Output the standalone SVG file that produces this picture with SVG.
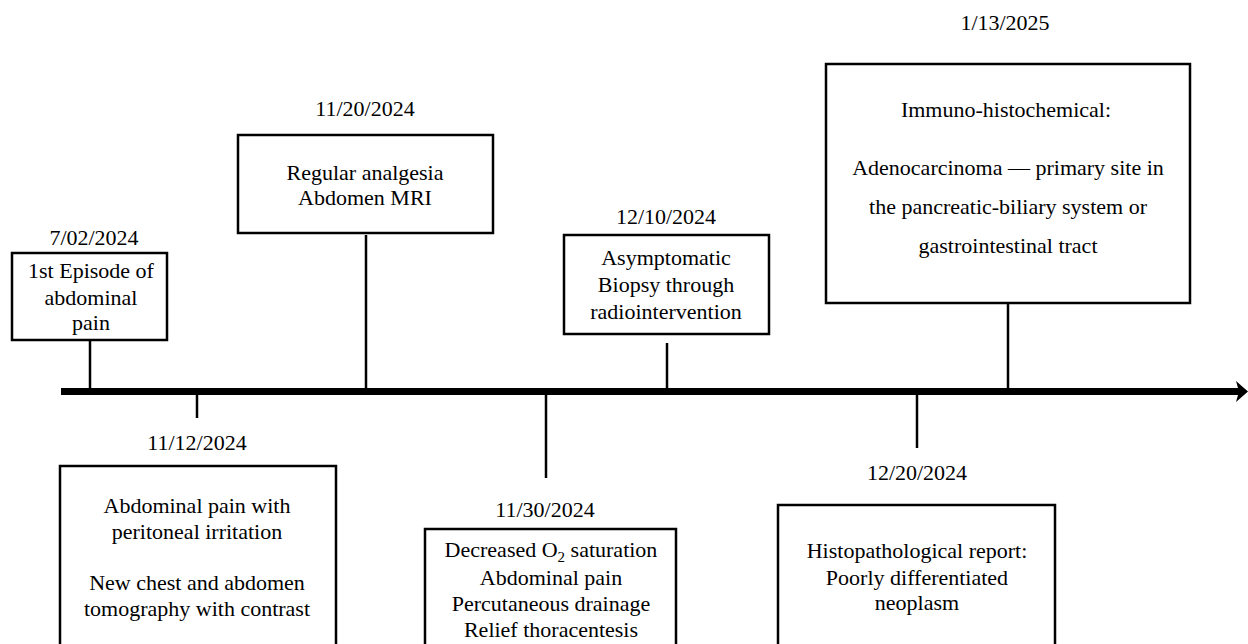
<svg xmlns="http://www.w3.org/2000/svg" width="1248" height="644" viewBox="0 0 1248 644">
<style>
.box{fill:#fff;stroke:#000;stroke-width:2.5}
.ln{stroke:#000;stroke-width:2.5;fill:none}
text{font-family:'Liberation Serif','DejaVu Serif',serif;font-size:22px;fill:#000;text-anchor:middle}
</style>
<rect width="1248" height="644" fill="#fff"/>
<g id="connectors">
<line x1="61" y1="391.5" x2="1241" y2="391.5" stroke="#000" stroke-width="7"/>
<path d="M1236,381 L1248,391.5 L1236,402 L1239,391.5 Z" fill="#000"/>
<line class="ln" x1="90" y1="340" x2="90" y2="389"/>
<line class="ln" x1="366" y1="235" x2="366" y2="389"/>
<line class="ln" x1="667" y1="343" x2="667" y2="389"/>
<line class="ln" x1="1008" y1="302" x2="1008" y2="389"/>
<line class="ln" x1="197" y1="394" x2="197" y2="418"/>
<line class="ln" x1="546" y1="394" x2="546" y2="478"/>
<line class="ln" x1="917" y1="394" x2="917" y2="448"/>
</g>
<g id="n1">
<text x="94" y="245">7/02/2024</text>
<rect class="box" x="12" y="253" width="155" height="87"/>
<text x="91" y="278">1st Episode of</text>
<text x="91" y="305">abdominal</text>
<text x="91" y="330">pain</text>
</g>
<g id="n2">
<text x="365" y="116">11/20/2024</text>
<rect class="box" x="238" y="135" width="255" height="98"/>
<text x="365" y="180">Regular analgesia</text>
<text x="365" y="205">Abdomen MRI</text>
</g>
<g id="n3">
<text x="666" y="224">12/10/2024</text>
<rect class="box" x="564" y="235" width="205" height="99"/>
<text x="666" y="265">Asymptomatic</text>
<text x="666" y="292">Biopsy through</text>
<text x="666" y="319">radiointervention</text>
</g>
<g id="n4">
<text x="1005" y="30">1/13/2025</text>
<rect class="box" x="826" y="64" width="364" height="239"/>
<text x="1006" y="117">Immuno-histochemical:</text>
<text x="1008" y="175">Adenocarcinoma — primary site in</text>
<text x="1008" y="214">the pancreatic-biliary system or</text>
<text x="1008" y="253">gastrointestinal tract</text>
</g>
<g id="n5">
<text x="197" y="450">11/12/2024</text>
<rect class="box" x="60" y="466" width="276" height="190"/>
<text x="197" y="513">Abdominal pain with</text>
<text x="197" y="539">peritoneal irritation</text>
<text x="197" y="590">New chest and abdomen</text>
<text x="197" y="616">tomography with contrast</text>
</g>
<g id="n6">
<text x="545" y="517">11/30/2024</text>
<rect class="box" x="425" y="529" width="251" height="130"/>
<text x="551" y="557">Decreased O<tspan font-size="15" dy="5">2</tspan><tspan dy="-5"> saturation</tspan></text>
<text x="551" y="585">Abdominal pain</text>
<text x="551" y="611">Percutaneous drainage</text>
<text x="551" y="637">Relief thoracentesis</text>
</g>
<g id="n7">
<text x="917" y="480">12/20/2024</text>
<rect class="box" x="778" y="505" width="277" height="150"/>
<text x="917" y="558">Histopathological report:</text>
<text x="917" y="585">Poorly differentiated</text>
<text x="917" y="610">neoplasm</text>
</g>
</svg>
